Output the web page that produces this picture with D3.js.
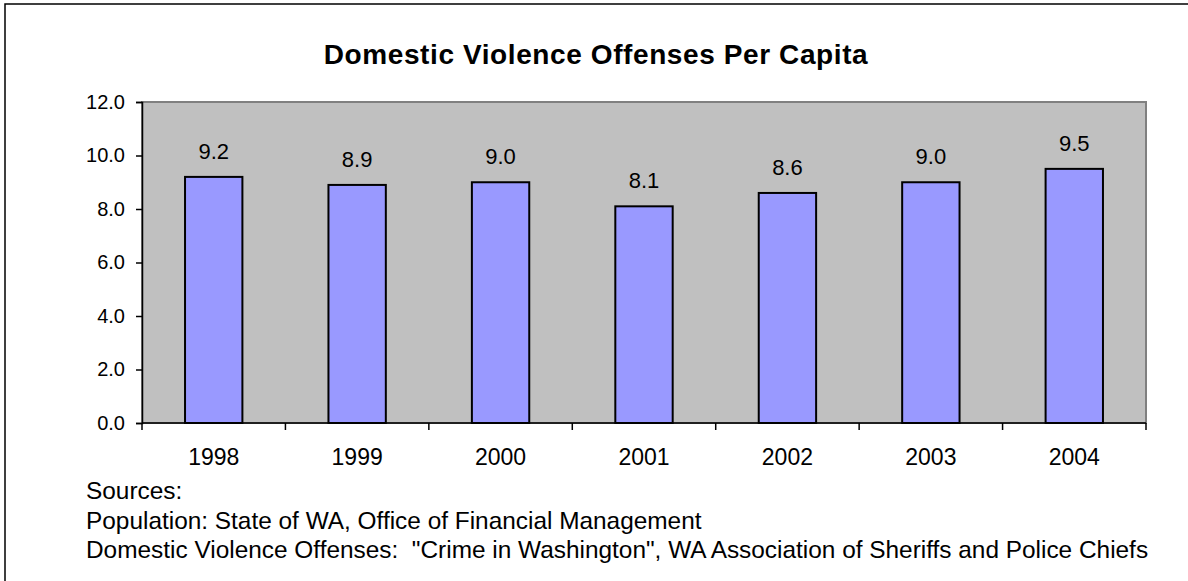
<!DOCTYPE html>
<html>
<head>
<meta charset="utf-8">
<script src="https://cdn.jsdelivr.net/npm/d3@7/dist/d3.min.js"></script>
<style>
  html, body { margin: 0; padding: 0; background: #fff; }
  svg { display: block; font-family: "Liberation Sans", Arial, sans-serif; }
</style>
</head>
<body>
<svg id="chart" width="1188" height="581"></svg>
<script>
// Domestic violence offenses per capita, Washington State
const years = ["1998", "1999", "2000", "2001", "2002", "2003", "2004"];
const offensesPerCapita = [9.2, 8.9, 9.0, 8.1, 8.6, 9.0, 9.5];
const yTicks = [0, 2, 4, 6, 8, 10, 12];
const titleText = "Domestic Violence Offenses Per Capita";
const sourceLines = [
  "Sources:",
  "Population: State of WA, Office of Financial Management",
  "Domestic Violence Offenses:  \"Crime in Washington\", WA Association of Sheriffs and Police Chiefs"
];

const svg = d3.select("#chart");
const plot = { left: 142, right: 1146, top: 102, bottom: 423 };

const x = d3.scaleBand()
  .domain(years)
  .range([plot.left, plot.right])
  .paddingInner(0.6)
  .paddingOuter(0.3);

const y = d3.scaleLinear()
  .domain([0, 12])
  .range([plot.bottom, plot.top]);

// outer chart frame
svg.append("path")
  .attr("d", "M5,581 L5,4 L1188,4")
  .attr("fill", "none")
  .attr("stroke", "#000")
  .attr("stroke-width", 1.5);

// title
svg.append("text")
  .attr("x", 596)
  .attr("y", 64)
  .attr("text-anchor", "middle")
  .attr("font-size", 28)
  .attr("font-weight", "bold")
  .attr("letter-spacing", 0.6)
  .text(titleText);

// plot background
svg.append("rect")
  .attr("x", plot.left)
  .attr("y", plot.top)
  .attr("width", plot.right - plot.left)
  .attr("height", plot.bottom - plot.top)
  .attr("fill", "#C0C0C0")
  .attr("stroke", "#808080")
  .attr("stroke-width", 2);

// bars
svg.append("g")
  .selectAll("rect")
  .data(years)
  .join("rect")
  .attr("x", d => x(d))
  .attr("y", (d, i) => y(offensesPerCapita[i]))
  .attr("width", x.bandwidth())
  .attr("height", (d, i) => y(0) - y(offensesPerCapita[i]))
  .attr("fill", "#9999FF")
  .attr("stroke", "#000")
  .attr("stroke-width", 2);

// value labels
svg.append("g")
  .selectAll("text")
  .data(years)
  .join("text")
  .attr("x", d => x(d) + x.bandwidth() / 2)
  .attr("y", (d, i) => y(offensesPerCapita[i]) - 18)
  .attr("text-anchor", "middle")
  .attr("font-size", 22)
  .text((d, i) => d3.format(".1f")(offensesPerCapita[i]));

// y axis
const yAxis = svg.append("g")
  .attr("transform", `translate(${plot.left},0)`)
  .call(d3.axisLeft(y).tickValues(yTicks).tickFormat(d3.format(".1f")).tickSize(6).tickPadding(11));
yAxis.select(".domain").attr("stroke", "#000").attr("stroke-width", 1.5);
yAxis.selectAll(".tick line").attr("stroke", "#000").attr("stroke-width", 1.5);
yAxis.selectAll(".tick text").attr("font-size", 20).attr("fill", "#000")
  .attr("font-family", "\"Liberation Sans\", Arial, sans-serif");

// x axis line and category boundary ticks
const gx = svg.append("g");
gx.append("line")
  .attr("x1", plot.left).attr("x2", plot.right)
  .attr("y1", y(0)).attr("y2", y(0))
  .attr("stroke", "#000").attr("stroke-width", 1.5);
const boundaries = years.map(d => x(d) - x.step() * x.paddingInner() / 2)
  .map((v, i) => i === 0 ? plot.left : v)
  .concat([plot.right]);
gx.selectAll("line.tick")
  .data(boundaries)
  .join("line")
  .attr("class", "tick")
  .attr("x1", d => d).attr("x2", d => d)
  .attr("y1", y(0)).attr("y2", y(0) + 7)
  .attr("stroke", "#000").attr("stroke-width", 1.5);
gx.selectAll("text")
  .data(years)
  .join("text")
  .attr("x", d => x(d) + x.bandwidth() / 2)
  .attr("y", y(0) + 42)
  .attr("text-anchor", "middle")
  .attr("font-size", 23)
  .text(d => d);

// source notes
svg.append("g")
  .selectAll("text")
  .data(sourceLines)
  .join("text")
  .attr("x", 86)
  .attr("y", (d, i) => 499 + i * 29.5)
  .attr("font-size", 24.4)
  .attr("xml:space", "preserve")
  .style("white-space", "pre")
  .text(d => d);
</script>
</body>
</html>
